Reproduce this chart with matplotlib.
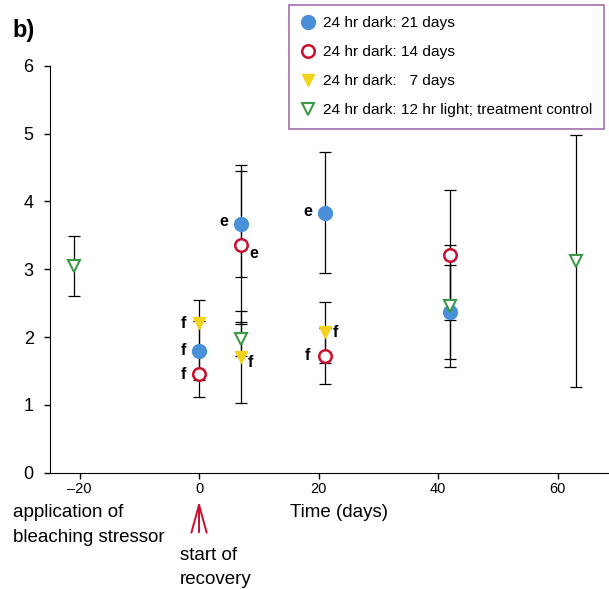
import matplotlib as mpl
from matplotlib import pyplot as plt

mpl.rcParams['font.family'] = ['Liberation Sans', 'DejaVu Sans']

# 24 hr dark: 21 days
d21_x = [0, 7, 21, 42]
d21_y = [1.80, 3.66, 3.83, 2.37]
d21_err = [0.44, 0.78, 0.89, 0.69]
# 24 hr dark: 14 days
d14_x = [0, 7, 21, 42]
d14_y = [1.45, 3.36, 1.72, 3.21]
d14_err = [0.33, 1.17, 0.41, 0.96]
# 24 hr dark: 7 days
d7_x = [0, 7, 21]
d7_y = [2.20, 1.71, 2.07]
d7_err = [0.34, 0.68, 0.45]
# control
ctl_x = [-21, 7, 42, 63]
ctl_y = [3.05, 1.97, 2.46, 3.12]
ctl_err = [0.44, 0.25, 0.90, 1.86]

# significance letters: (x, y, text)
letters = [(0, 2.20, 'f'), (0, 1.80, 'f'), (0, 1.45, 'f'),
           (7, 3.66, 'e'), (7, 3.36, 'e'), (7, 1.71, 'f'),
           (21, 3.83, 'e'), (21, 2.07, 'f'), (21, 1.72, 'f')]
# label offsets in points
offsets = [(-11, 0), (-11, 0), (-11, 0),
           (-12, 2), (9, -6), (7, -4),
           (-12, 1), (8, 0), (-12, 0)]

fig = plt.figure(figsize=(6.09, 5.89), dpi=100)
ax = fig.add_axes([0.0815, 0.1975, 0.9185, 0.691])

eb = dict(fmt='none', ecolor='black', elinewidth=0.9, capsize=4.5, capthick=0.9, zorder=1)
ax.errorbar(d21_x, d21_y, yerr=d21_err, **eb)
ax.errorbar(d14_x, d14_y, yerr=d14_err, **eb)
ax.errorbar(d7_x, d7_y, yerr=d7_err, **eb)
ax.errorbar(ctl_x, ctl_y, yerr=ctl_err, **eb)

ax.plot(d21_x, d21_y, 'o', ms=10, mfc='#4A90D9', mec='#4A90D9', ls='none', zorder=3,
        label='24 hr dark: 21 days')
ax.plot(d14_x, d14_y, 'o', ms=9, mfc='white', mec='#C8102E', mew=1.8, ls='none', zorder=3,
        label='24 hr dark: 14 days')
ax.plot(d7_x, d7_y, 'v', ms=9, mfc='#F2D21B', mec='#F2D21B', ls='none', zorder=3,
        label='24 hr dark:   7 days')
ax.plot(ctl_x, ctl_y, 'v', ms=9, mfc='white', mec='#3A9A48', mew=1.5, ls='none', zorder=3,
        label='24 hr dark: 12 hr light; treatment control')

for (x, y, t), (dx, dy) in zip(letters, offsets):
    ax.annotate(t, (x, y), xytext=(dx, dy), textcoords='offset points',
                ha='center', va='center', fontsize=11.5, fontweight='bold')

ax.set_xlim(-25, 68.6)
ax.set_ylim(0, 6)
ax.set_xticks([-20, 0, 20, 40, 60])
ax.set_xticklabels(['\u201320', '0', '20', '40', '60'])
ax.set_yticks(range(7))
ax.tick_params(axis='x', labelsize=10.5, length=4, width=1, pad=3)
ax.tick_params(axis='y', labelsize=13, length=4.5, width=1, pad=7)
ax.spines['top'].set_visible(False)
ax.spines['right'].set_visible(False)

leg = fig.legend(loc='upper left', bbox_to_anchor=(0.4745, 0.9915), fontsize=11.1,
                 frameon=True, fancybox=False, edgecolor='#8E4A9A', borderpad=0.72,
                 labelspacing=0.98, handletextpad=0.5, handlelength=1.0,
                 borderaxespad=0)
leg.get_frame().set_linewidth(1.2)

fig.text(0.02, 0.949, 'b)', fontsize=17, fontweight='bold', va='center')
fig.text(0.021, 0.108, 'application of\nbleaching stressor', fontsize=13.5, va='center',
         linespacing=1.6)
fig.text(0.476, 0.1307, 'Time (days)', fontsize=13.5, va='center')
fig.text(0.2956, 0.0365, 'start of\nrecovery', fontsize=13.5, va='center', linespacing=1.6)
ax.annotate('', xy=(0, -0.38), xytext=(0, -0.92), xycoords='data',
            arrowprops=dict(arrowstyle='->, head_length=0.8, head_width=0.22',
                            color='#C8102E', lw=1.4, mutation_scale=25),
            annotation_clip=False)

fig.savefig('out.png', dpi=100)
